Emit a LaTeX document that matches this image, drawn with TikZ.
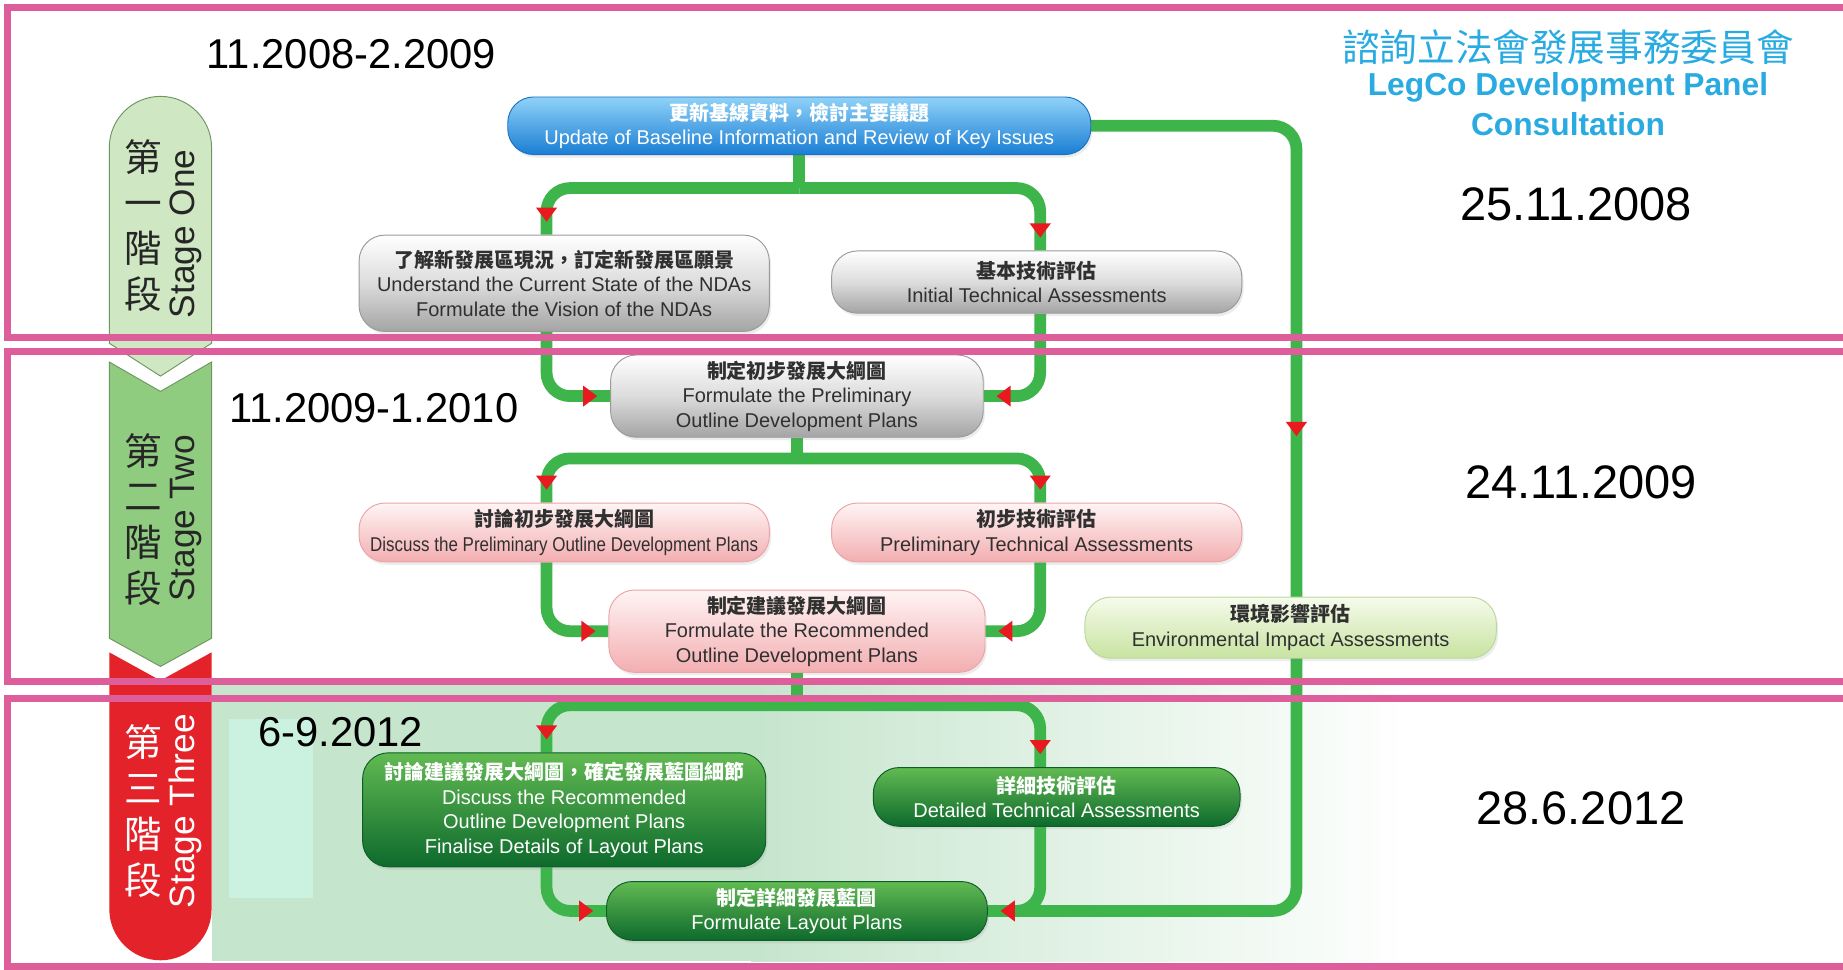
\documentclass[tikz,border=0pt]{standalone}
\usepackage{fontspec}
\usepackage{graphicx}
\setmainfont{Liberation Sans}
\newfontfamily\cjk{Noto Sans CJK TC}
\usetikzlibrary{decorations.markings,calc,shadows}
\pgfdeclarelayer{back}
\pgfdeclarelayer{lines}
\pgfdeclarelayer{front}
\pgfsetlayers{back,lines,main,front}
\newcommand{\zh}[1]{{\cjk\bfseries #1}}
\newcommand{\redtri}{\fill[arrowred, sharp corners] (5pt,0pt) -- (-7pt,9pt) -- (-7pt,-9pt) -- cycle;}
\definecolor{pinkframe}{HTML}{DE5E9B}
\definecolor{flowgreen}{HTML}{3DB54A}
\definecolor{arrowred}{HTML}{E8191F}
\definecolor{cyantitle}{HTML}{29ABE2}
\definecolor{mint}{HTML}{C6E5CD}
\definecolor{mintbox}{HTML}{CBF2E0}
\definecolor{stageonefill}{HTML}{CFE7C2}
\definecolor{stagetwofill}{HTML}{90CC80}
\definecolor{stageborder}{HTML}{6F9662}
\definecolor{stagered}{HTML}{E42229}
\definecolor{nodetext}{HTML}{303030}
\definecolor{greyborder}{HTML}{9A9A9A}
\definecolor{greymid}{HTML}{DCDCDC}
\definecolor{greybot}{HTML}{A4A4A4}
\definecolor{pinktop}{HTML}{FFF4F4}
\definecolor{pinkbot}{HTML}{F3AEB1}
\definecolor{pinkborder}{HTML}{EBA3A7}
\definecolor{bluetop}{HTML}{8FD2F8}
\definecolor{bluebot}{HTML}{1A7ED4}
\definecolor{blueborder}{HTML}{1C72C2}
\definecolor{lgtop}{HTML}{F6FBEC}
\definecolor{lgbot}{HTML}{C7E3A0}
\definecolor{lgborder}{HTML}{BBD89A}
\definecolor{dgtop}{HTML}{62BA52}
\definecolor{dgbot}{HTML}{0D6A2C}
\definecolor{dgborder}{HTML}{0C5E26}
\tikzset{
  nodebase/.style={rounded corners=22pt, minimum height=50pt, inner sep=0pt,
    align=center, font=\fontsize{17}{21}\selectfont, line width=0.8pt,
    drop shadow={opacity=0.15, shadow xshift=1.5pt, shadow yshift=-2.5pt}},
  greynode/.style={nodebase, draw=greyborder, top color=white, bottom color=greybot, middle color=greymid, text=nodetext},
  pinknode/.style={nodebase, draw=pinkborder, top color=pinktop, bottom color=pinkbot, text=nodetext},
  bluenode/.style={nodebase, draw=blueborder, top color=bluetop, bottom color=bluebot, text=white},
  lgnode/.style={nodebase, draw=lgborder, top color=lgtop, bottom color=lgbot, text=nodetext},
  dgnode/.style={nodebase, draw=dgborder, top color=dgtop, bottom color=dgbot, text=white},
  flow/.style={draw=flowgreen, line width=10pt, rounded corners=20pt},
  arrowin/.style={postaction={decorate, decoration={markings,
      mark=at position -16pt with {\redtri}}}},
  bigarrows/.style={postaction={decorate, decoration={markings,
      mark=at position 425pt with {\redtri},
      mark=at position -16pt with {\redtri}}}},
  frame/.style={draw=pinkframe, line width=6pt},
  dateleft/.style={font=\fontsize{35.5}{36}\selectfont, inner sep=0pt},
  dateright/.style={font=\fontsize{40}{40}\selectfont, inner sep=0pt},
  stagezh/.style={font=\cjk\fontsize{32}{39}\selectfont, align=center, inner sep=0pt},
  stageen/.style={font=\fontsize{30}{30}\selectfont, rotate=90, inner sep=0pt},
}
\begin{document}
\begin{tikzpicture}[x=1pt, y=-1pt]
\useasboundingbox (0,0) rectangle (1568,825);

% background of stage three
\begin{pgfonlayer}{back}
\fill[white] (0,0) rectangle (1568,825);
\fill[mint] (180,578) rectangle (640,818);
\shade[left color=mint, right color=white] (639,578) rectangle (1200,818);
\end{pgfonlayer}
\fill[mintbox] (195,612) rectangle (266,764);

% stage bar
\draw[fill=stageonefill, draw=stageborder, line width=0.8pt]
  (136.5,320) -- (93,292) -- (93,125.5) arc[start angle=180, end angle=0, radius=43.5pt] -- (180,292) -- cycle;
\draw[fill=stagetwofill, draw=stageborder, line width=0.8pt]
  (93,308) -- (136.5,333) -- (180,308) -- (180,543) -- (136.5,567) -- (93,543) -- cycle;
\fill[stagered]
  (93,555) -- (136.5,579) -- (180,555) -- (180,773.5) arc[start angle=0, end angle=-180, radius=43.5pt] -- cycle;
\node[stagezh, text=black!85] (s1zh) at (122,192) {第\\一\\階\\段};
\node[stageen, text=black!85] (s1en) at (158,199) {Stage One};
\node[stagezh, text=black!85] (s2zh) at (122,442) {第\\二\\階\\段};
\node[stageen, text=black!85] (s2en) at (158,441) {Stage Two};
\node[stagezh, text=white] (s3zh) at (122,690) {第\\三\\階\\段};
\node[stageen, text=white] (s3en) at (158,690) {Stage Three};

% dates
\node[dateleft] (d1) at (299,46) {11.2008-2.2009};
\node[dateleft] (d2) at (318,347) {11.2009-1.2010};
\node[dateleft] (d3) at (290,623) {6-9.2012};
\node[dateright] (r1) at (1341,174) {25.11.2008};
\node[dateright] (r2) at (1345,410) {24.11.2009};
\node[dateright] (r3) at (1345,688) {28.6.2012};

% title
\node[font=\cjk\fontsize{32}{32}\selectfont, text=cyantitle, inner sep=0pt] (t1) at (1334,40) {諮詢立法會發展事務委員會};
\node[font=\bfseries\fontsize{27}{27}\selectfont, text=cyantitle, inner sep=0pt] (t2) at (1334,74) {LegCo Development Panel};
\node[font=\bfseries\fontsize{27}{27}\selectfont, text=cyantitle, inner sep=0pt] (t3) at (1334,106) {Consultation};

% flow nodes
\node[bluenode, minimum width=496pt, minimum height=49pt] (n1) at (680,107)
  {\zh{更新基線資料，檢討主要議題}\\Update of Baseline Information and Review of Key Issues};
\node[greynode, minimum width=349pt, minimum height=82pt] (n2) at (480,241)
  {\zh{了解新發展區現況，訂定新發展區願景}\\Understand the Current State of the NDAs\\Formulate the Vision of the NDAs};
\node[greynode, minimum width=349pt, minimum height=53pt] (n3) at (882,240)
  {\zh{基本技術評估}\\Initial Technical Assessments};
\node[greynode, minimum width=317pt, minimum height=70pt] (n4) at (678,337)
  {\zh{制定初步發展大綱圖}\\Formulate the Preliminary\\Outline Development Plans};
\node[pinknode, minimum width=349pt, minimum height=50pt] (n5) at (480,453)
  {\zh{討論初步發展大綱圖}\\\scalebox{0.85}[1]{Discuss the Preliminary Outline Development Plans}};
\node[pinknode, minimum width=349pt, minimum height=50pt] (n6) at (882,453)
  {\zh{初步技術評估}\\Preliminary Technical Assessments};
\node[pinknode, minimum width=320pt, minimum height=70pt] (n7) at (678,537)
  {\zh{制定建議發展大綱圖}\\Formulate the Recommended\\Outline Development Plans};
\node[lgnode, minimum width=350pt, minimum height=52pt] (n8) at (1098,534)
  {\zh{環境影響評估}\\Environmental Impact Assessments};
\node[dgnode, minimum width=343pt, minimum height=97pt] (n9) at (480,689)
  {\zh{討論建議發展大綱圖，確定發展藍圖細節}\\Discuss the Recommended\\Outline Development Plans\\Finalise Details of Layout Plans};
\node[dgnode, minimum width=312pt, minimum height=50pt] (n10) at (899,678)
  {\zh{詳細技術評估}\\Detailed Technical Assessments};
\node[dgnode, minimum width=324pt, minimum height=50pt] (n11) at (678,775)
  {\zh{制定詳細發展藍圖}\\Formulate Layout Plans};

% connectors
\coordinate (L) at (465,0);
\coordinate (R) at (885,0);
\coordinate (B) at (1103,0);
\coordinate (y1) at (0,160);
\coordinate (y2) at (0,390);
\coordinate (y3) at (0,600);
\begin{pgfonlayer}{lines}
\draw[flow] (n1.south) -- (n1.south |- y1);
\draw[flow,arrowin] (n1.south |- y1) -| (n2.north -| L);
\draw[flow,arrowin] (n1.south |- y1) -| (n3.north -| R);
\draw[flow,arrowin] (n2.south -| L) |- (n4.west);
\draw[flow,arrowin] (n3.south -| R) |- (n4.east);
\draw[flow] (n4.south) -- (n4.south |- y2);
\draw[flow,arrowin] (n4.south |- y2) -| (n5.north -| L);
\draw[flow,arrowin] (n4.south |- y2) -| (n6.north -| R);
\draw[flow,arrowin] (n5.south -| L) |- (n7.west);
\draw[flow,arrowin] (n6.south -| R) |- (n7.east);
\draw[flow] (n7.south) -- (n7.south |- y3);
\draw[flow,arrowin] (n7.south |- y3) -| (n9.north -| L);
\draw[flow,arrowin] (n7.south |- y3) -| (n10.north -| R);
\draw[flow,arrowin] (n9.south -| L) |- (n11.west);
\draw[flow] (n10.south -| R) |- (n11.east);
\draw[flow,bigarrows] (n1.east) -- (n1.east -| B) -- (n11.east -| B) -- (n11.east);
\end{pgfonlayer}

% pink frames
\begin{pgfonlayer}{front}
\draw[frame] (6,6) rectangle (1620,287);
\draw[frame] (6,299) rectangle (1620,580);
\draw[frame] (6,594) rectangle (1620,822);
\end{pgfonlayer}
\end{tikzpicture}
\end{document}
